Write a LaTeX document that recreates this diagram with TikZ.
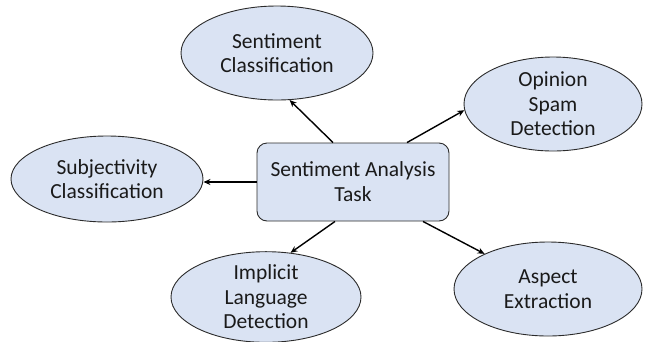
\documentclass[tikz,border=0pt]{standalone}
\usepackage{fontspec}
\setmainfont{Carlito}
\usetikzlibrary{shapes.geometric,arrows.meta}
\definecolor{bubble}{HTML}{DAE3F3}
\definecolor{edge}{HTML}{2B2B2B}
\definecolor{ink}{HTML}{1A1A1A}
\tikzset{
  topic/.style={ellipse, draw=edge, line width=0.9pt, fill=bubble, inner sep=0pt,
    align=center, text=ink, font=\fontsize{21.5}{24.5}\selectfont},
  hub/.style={draw=edge, line width=0.9pt, fill=bubble, rounded corners=10pt,
    minimum width=192pt, minimum height=78pt, align=center, text=ink,
    font=\fontsize{21.5}{25}\selectfont},
  link/.style={-{Stealth[length=7pt,width=6pt]}, line width=1.4pt, black}
}
\begin{document}
\begin{tikzpicture}[x=1pt,y=-1pt]
\useasboundingbox (0,0) rectangle (645,341);
\clip (0,0) rectangle (645,341);
% central task box
\node[hub] (task) at (353,182) {Sentiment Analysis\\Task};
% surrounding sub-tasks
\node[topic, minimum width=192pt, minimum height=94pt] (sc) at (277,53) {Sentiment\\Classification};
\node[topic, minimum width=178pt, minimum height=94pt] (osd) at (553,104) {Opinion\\Spam\\Detection};
\node[topic, minimum width=192pt, minimum height=86pt] (subj) at (107,179) {Subjectivity\\Classification};
\node[topic, minimum width=190pt, minimum height=88pt] (ild) at (266,297) {Implicit\\Language\\Detection};
\node[topic, minimum width=188pt, minimum height=94pt] (ae) at (548,289) {Aspect\\Extraction};
% connectors from the task to each sub-task
\draw[link] ([xshift=-20pt]task.north) -- (sc.-75);
\draw[link] ([xshift=54pt]task.north) -- (osd.184);
\draw[link] (task.west) -- (task.west -| subj.east);
\draw[link] ([xshift=-18pt]task.south) -- (ild.61);
\draw[link] ([xshift=70pt]task.south) -- (ae.151);
\end{tikzpicture}
\end{document}
